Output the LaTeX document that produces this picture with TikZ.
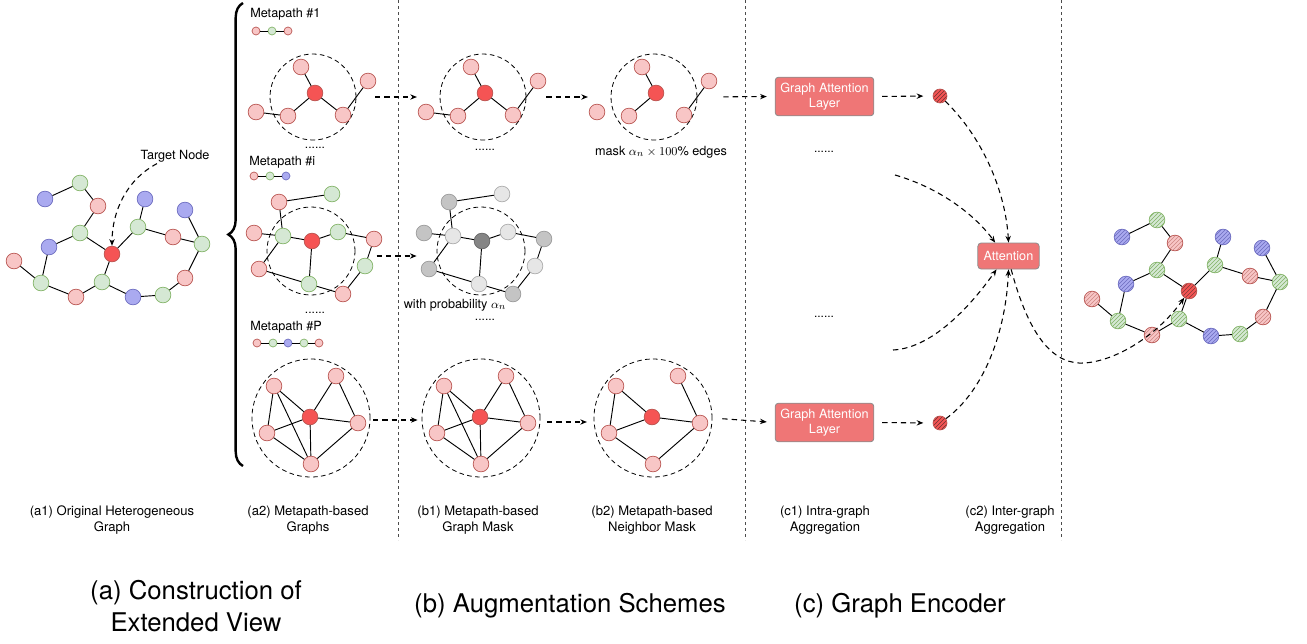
\documentclass[tikz,border=0pt]{standalone}
\usepackage{fontspec}
\setmainfont{TeX Gyre Heros}
\usetikzlibrary{arrows.meta,patterns,decorations.pathreplacing,calc}
\definecolor{pinkF}{HTML}{F8C6C6}
\definecolor{pinkD}{HTML}{B85450}
\definecolor{greenF}{HTML}{D5E8D4}
\definecolor{greenD}{HTML}{82B366}
\definecolor{blueF}{HTML}{AAAAF0}
\definecolor{blueD}{HTML}{6C6CBF}
\definecolor{redF}{HTML}{F55454}
\definecolor{redD}{HTML}{B85450}
\definecolor{boxF}{HTML}{EF7676}
\definecolor{boxD}{HTML}{8C8C8C}
\definecolor{gdF}{HTML}{C4C4C4}
\definecolor{gdD}{HTML}{9A9A9A}
\definecolor{glF}{HTML}{E6E6E6}
\definecolor{glD}{HTML}{ABABAB}
\definecolor{gcF}{HTML}{858585}
\definecolor{gcD}{HTML}{666666}
\tikzset{
 vtx/.style={circle, inner sep=0pt, minimum size=11.8pt, line width=0.5pt},
 pk/.style={vtx, fill=pinkF, draw=pinkD},
 gn/.style={vtx, fill=greenF, draw=greenD},
 bl/.style={vtx, fill=blueF, draw=blueD},
 rd/.style={vtx, fill=redF, draw=redD},
 gd/.style={vtx, fill=gdF, draw=gdD},
 gl/.style={vtx, fill=glF, draw=glD},
 gc/.style={vtx, fill=gcF, draw=gcD},
 sm/.style={minimum size=6pt},
 hpk/.style={vtx, draw=pinkD, preaction={fill=pinkF}, pattern=north east lines, pattern color=pinkD!70},
 hgn/.style={vtx, draw=greenD, preaction={fill=greenF}, pattern=north east lines, pattern color=greenD},
 hbl/.style={vtx, draw=blueD, preaction={fill=blueF}, pattern=north east lines, pattern color=blueD},
 hrd/.style={vtx, draw=redD, preaction={fill=redF}, pattern=north east lines, pattern color=redD!70!black},
 edge/.style={line width=0.7pt, draw=black},
 hood/.style={circle, draw=black, inner sep=0pt, line width=0.6pt, dash pattern=on 3.5pt off 2.5pt},
 flow/.style={line width=0.8pt, draw=black, dash pattern=on 4pt off 3pt, -{Stealth[length=5pt,width=4pt]}},
 gat/.style={rectangle, rounded corners=2.5pt, fill=boxF, draw=boxD, line width=0.6pt, text=white, align=center, font=\fontsize{9.5}{11.5}\selectfont, minimum width=74pt, minimum height=29pt, inner sep=1pt},
 sepl/.style={draw=black!70, line width=0.5pt, dash pattern=on 2.5pt off 2pt},
 txt/.style={font=\fontsize{9.5}{11.5}\selectfont, inner sep=0pt},
 dots/.style={font=\fontsize{9}{10}\selectfont, inner sep=0pt},
 lab/.style={align=center, font=\fontsize{9.8}{11.5}\selectfont, inner sep=0pt},
 big/.style={align=center, font=\fontsize{19.3}{23.5}\selectfont, inner sep=0pt},
}
\newcommand\mpOne[3]{%
 \begin{scope}[shift={(#2,0)}]
  \node[hood, minimum size=64.5pt] (#1c) at (313,97) {};
  \node[rd] (#1-0) at (315,93) {};
  \node[pk] (#1-1) at (301,67) {};
  \node[pk] (#1-2) at (288,116) {};
  \node[pk] (#1-3) at (343,115) {};
  \node[pk] (#1-4) at (256,112) {};
  \node[pk] (#1-5) at (368,81) {};
  \foreach \a/\b in {#3} \draw[edge] (#1-\a) -- (#1-\b);
 \end{scope}}
\newcommand\mpMid[5]{%
 \begin{scope}[shift={(#2,0)}]
  \node[hood, minimum size=66pt] (#1c) at (311,251) {};
  \node[#3] (#1-0) at (312,241) {};
  \node[#4] (#1-1) at (279,202) {};
  \node[#5] (#1-2) at (332,194) {};
  \node[#4] (#1-3) at (254,233) {};
  \node[#5] (#1-4) at (283,236) {};
  \node[#5] (#1-5) at (338,232) {};
  \node[#4] (#1-6) at (374,239) {};
  \node[#4] (#1-7) at (259,269) {};
  \node[#5] (#1-8) at (309,284) {};
  \node[#5] (#1-9) at (365,266) {};
  \node[#4] (#1-10) at (343,294) {};
  \foreach \a/\b in {1/2,1/4,3/4,4/0,0/5,5/6,0/8,4/7,7/8,8/10,6/9,9/10} \draw[edge] (#1-\a) -- (#1-\b);
 \end{scope}}
\newcommand\mpLast[3]{%
 \begin{scope}[shift={(#2,0)}]
  \node[hood, minimum size=88.5pt] (#1c) at (311,418) {};
  \node[rd] (#1-0) at (310,417) {};
  \node[pk] (#1-1) at (274,386) {};
  \node[pk] (#1-2) at (336,376) {};
  \node[pk] (#1-3) at (267,433) {};
  \node[pk] (#1-4) at (358,423) {};
  \node[pk] (#1-5) at (311,464) {};
  \foreach \a/\b in {#3} \draw[edge] (#1-\a) -- (#1-\b);
 \end{scope}}
\begin{document}
\begin{tikzpicture}[x=0.75pt, y=-0.75pt]
\useasboundingbox (0,0) rectangle (1307,643);
% separators
\draw[sepl] (398,0) -- (398,540);
\draw[sepl] (745,0) -- (745,540);
\draw[sepl] (1061,0) -- (1061,540);
% brace
\draw[decorate, decoration={brace, amplitude=11pt}, line width=1.8pt] (243,466) -- (243,3);
% ---- left original graph
\node[bl] (L1) at (45,199) {};
\node[gn] (L2) at (80,183) {};
\node[pk] (L3) at (98,206) {};
\node[gn] (L4) at (80,233) {};
\node[bl] (L5) at (49,247) {};
\node[pk] (L6) at (14,261) {};
\node[gn] (L7) at (41,283) {};
\node[pk] (L8) at (76,297) {};
\node[gn] (L9) at (102,282) {};
\node[bl] (L10) at (133,297) {};
\node[gn] (L11) at (163,295) {};
\node[pk] (L12) at (185,278) {};
\node[gn] (L13) at (202,244) {};
\node[bl] (L14) at (185,210) {};
\node[pk] (L15) at (173,237) {};
\node[gn] (L16) at (138,227) {};
\node[bl] (L17) at (145,199) {};
\node[rd] (Lt) at (112,254) {};
\foreach \a/\b in {1/2,2/3,3/4,4/5,4/t,5/7,6/7,7/8,8/9,9/t,9/10,10/11,11/12,12/13,13/14,13/15,15/16,16/t,16/17}
  \draw[edge] (L\a) -- (L\b);
\node[txt] (tn) at (175,156) {Target Node};
\draw[flow] ([xshift=-13.5pt,yshift=-1pt]tn.south) .. controls (126,180) and (112,212) .. (Lt);
% ---- right final graph
\node[hbl] (R1) at (1122,237) {};
\node[hgn] (R2) at (1157,220) {};
\node[hpk] (R3) at (1175,243) {};
\node[hgn] (R4) at (1157,270) {};
\node[hbl] (R5) at (1126,284) {};
\node[hpk] (R6) at (1092,299) {};
\node[hgn] (R7) at (1118,321) {};
\node[hpk] (R8) at (1152,335) {};
\node[hgn] (R9) at (1179,319) {};
\node[hbl] (R10) at (1211,336) {};
\node[hgn] (R11) at (1240,334) {};
\node[hpk] (R12) at (1263,317) {};
\node[hgn] (R13) at (1280,282) {};
\node[hbl] (R14) at (1262,248) {};
\node[hpk] (R15) at (1250,276) {};
\node[hgn] (R16) at (1215,265) {};
\node[hbl] (R17) at (1223,237) {};
\node[hrd] (Rt) at (1189,291) {};
\foreach \a/\b in {1/2,2/3,3/4,4/5,4/t,5/7,6/7,7/8,8/9,9/t,9/10,10/11,11/12,12/13,13/14,13/15,15/16,16/t,16/17}
  \draw[edge] (R\a) -- (R\b);
% ---- metapath labels and chains
\node[txt, anchor=west] (mt1) at (250,14) {Metapath \#1};
\node[pk, sm] (c1a) at (256,31) {};
\node[gn, sm] (c1b) at (272,31) {};
\node[pk, sm] (c1c) at (288,31) {};
\draw[edge] (c1a) -- (c1b) -- (c1c);
\node[txt, anchor=west] (mti) at (249,162) {Metapath \#i};
\node[pk, sm] (cia) at (254,176) {};
\node[gn, sm] (cib) at (270,176) {};
\node[bl, sm] (cic) at (286,176) {};
\draw[edge] (cia) -- (cib) -- (cic);
\node[txt, anchor=west] (mtp) at (250,327) {Metapath \#P};
\node[pk, sm] (cpa) at (257,343) {};
\node[gn, sm] (cpb) at (273,343) {};
\node[bl, sm] (cpc) at (288,343) {};
\node[gn, sm] (cpd) at (304,343) {};
\node[pk, sm] (cpe) at (319,343) {};
\draw[edge] (cpa) -- (cpb) -- (cpc) -- (cpd) -- (cpe);
% ---- metapath graphs
\mpOne{A}{0}{0/1,0/2,0/3,2/4,3/5}
\mpOne{B}{170}{0/1,0/2,0/3,2/4,3/5}
\mpOne{D}{341}{0/1,0/2,3/5}
\mpMid{I}{0}{rd}{pk}{gn}
\mpMid{G}{170}{gc}{gd}{gl}
\mpLast{P}{0}{1/3,1/0,1/5,2/0,2/4,3/0,0/4,3/5,0/5,5/4}
\mpLast{Q}{170}{1/3,1/0,1/5,2/0,2/4,3/0,0/4,3/5,0/5,5/4}
\mpLast{S}{342}{1/3,1/0,2/4,3/0,0/4,3/5,5/4}
% dots and notes
\node[dots] (d1) at (315,148) {......};
\node[dots] (d2) at (485,150) {......};
\node[dots] (d3) at (315,313) {......};
\node[dots] (d4) at (485,320) {......};
\node[txt] (mask) at (661,152) {mask $\alpha_n\times 100\%$ edges};
\node[txt] (prob) at (455,305) {with probability $\alpha_n$};
% ---- encoder
\node[gat] (gat1) at (824.5,96.5) {Graph Attention\\Layer};
\node[gat] (gat2) at (824.5,422.5) {Graph Attention\\Layer};
\node[dots] (d5) at (824,152) {......};
\node[dots] (d6) at (824,317) {......};
\node[vtx, minimum size=10.5pt, draw=redD, preaction={fill=redF}, pattern=north east lines, pattern color=redD!60!black] (h1) at (940,96) {};
\node[vtx, minimum size=10.5pt, draw=redD, preaction={fill=redF}, pattern=north east lines, pattern color=redD!60!black] (h2) at (940,423) {};
\node[gat, minimum width=46pt, minimum height=19.5pt] (att) at (1008.5,256) {Attention};
\coordinate (in2) at (895,175);
\coordinate (in3) at (893,350);
% ---- flow arrows
\draw[flow, shorten <=14pt, shorten >=17pt] (Ac.east) -- (Bc.west);
\draw[flow, shorten <=15pt, shorten >=17pt] (Bc.east) -- (Dc.west);
\draw[flow, shorten <=19.5pt, shorten >=6pt] (Dc.east) -- (gat1.west);
\draw[flow, shorten <=6pt, shorten >=7pt] (gat1.east) -- (h1.west);
\draw[flow, shorten <=16pt, shorten >=15pt] ([yshift=-3.75pt]Ic.east) -- ([yshift=-3.75pt]Gc.west);
\draw[flow, shorten <=2pt, shorten >=3pt] ([yshift=-1.5pt]Pc.east) -- ([yshift=-1.5pt]Qc.west);
\draw[flow, shorten <=5pt, shorten >=5pt] ([yshift=-3pt]Qc.east) -- ([yshift=-3pt]Sc.west);
\draw[flow, shorten <=7.5pt, shorten >=6pt] (Sc.east) -- (gat2.west);
\draw[flow, shorten <=6pt, shorten >=7pt] (gat2.east) -- (h2.west);
\draw[flow] (h1) .. controls (985,140) and (1006,195) .. (att.north);
\draw[flow] (in2) .. controls (940,188) and (975,215) .. ([xshift=-10pt]att.north);
\draw[flow] (in3) .. controls (935,348) and (975,300) .. ([xshift=-9pt]att.south);
\draw[flow] (h2) .. controls (985,390) and (1006,330) .. (att.south);
\draw[flow] ([xshift=2pt]att.south) .. controls (1030,340) and (1055,365) .. (1085,363) .. controls (1120,360) and (1160,332) .. (Rt);
% ---- labels
\node[lab] (l1) at (112,520) {(a1) Original Heterogeneous\\Graph};
\node[lab] (l2) at (308,520) {(a2) Metapath-based\\Graphs};
\node[lab] (l3) at (478,520) {(b1) Metapath-based\\Graph Mask};
\node[lab] (l4) at (652,520) {(b2) Metapath-based\\Neighbor Mask};
\node[lab] (l5) at (825,520) {(c1) Intra-graph\\Aggregation};
\node[lab] (l6) at (1010,520) {(c2) Inter-graph\\Aggregation};
\node[big] (b1) at (196,606) {(a) Construction of\\Extended View};
\node[big] (b2) at (570,606) {(b) Augmentation Schemes};
\node[big] (b3) at (900,606) {(c) Graph Encoder};
\end{tikzpicture}
\end{document}
